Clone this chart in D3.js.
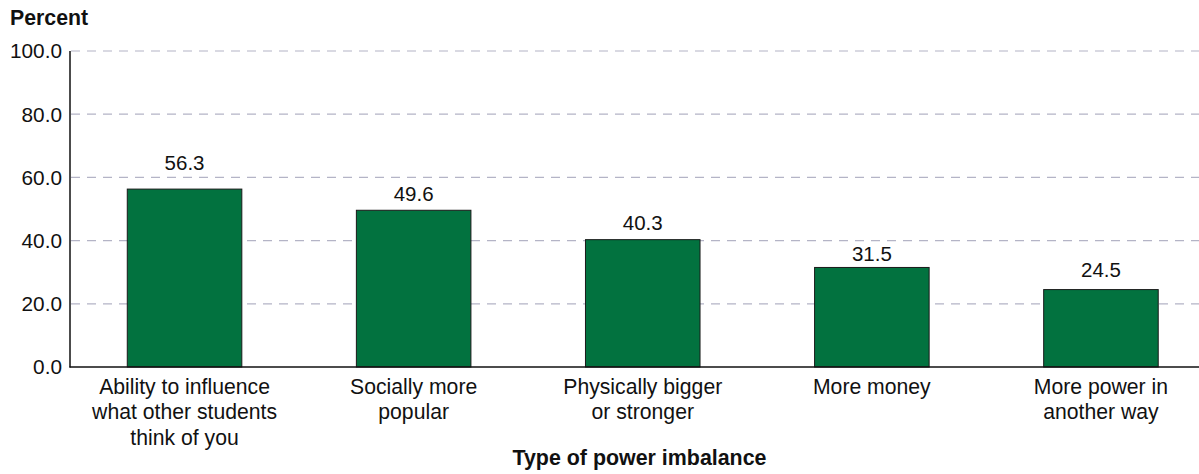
<!DOCTYPE html>
<html><head><meta charset="utf-8">
<script src="https://cdn.jsdelivr.net/npm/d3@7"></script>
<style>body{margin:0;background:#fff}svg{display:block;font-family:"Liberation Sans",Arial,sans-serif}</style>
</head><body><svg id="c" width="1199" height="474"></svg>
<script>
const categories = [
  ["Ability to influence","what other students","think of you"],
  ["Socially more","popular"],
  ["Physically bigger","or stronger"],
  ["More money"],
  ["More power in","another way"]
];
const values = [56.3, 49.6, 40.3, 31.5, 24.5];
const yTicks = [0, 20, 40, 60, 80, 100];
const yTitle = "Percent";
const xTitle = "Type of power imbalance";

// layout: gap (px) between each value label baseline and its bar top
const labelGap = [18.6, 9.3, 10, 6.6, 13];

const svg = d3.select("#c");
const x = d3.scaleBand().domain(d3.range(values.length)).range([70, 1215.5]).paddingInner(0.5).paddingOuter(0.25);
const y = d3.scaleLinear().domain([0, 100]).range([367, 51]);

// gridlines
svg.append("g").selectAll("line").data(yTicks.filter(d => d > 0)).join("line")
  .attr("x1", 71).attr("x2", 1199)
  .attr("y1", d => y(d)).attr("y2", d => y(d))
  .attr("stroke", "#b4b4c6").attr("stroke-width", 1.2).attr("stroke-dasharray", "9,7");

// y tick labels
svg.append("g").selectAll("text").data(yTicks).join("text")
  .attr("x", 62).attr("y", d => y(d)).attr("dy", "0.36em")
  .attr("text-anchor", "end").attr("font-size", 20.8).attr("fill", "#111")
  .text(d => d.toFixed(1));

// bars
svg.append("g").selectAll("rect").data(values).join("rect")
  .attr("x", (d, i) => x(i)).attr("width", x.bandwidth())
  .attr("y", d => y(d)).attr("height", d => y(0) - y(d))
  .attr("fill", "#02723f").attr("stroke", "#1a1a1a").attr("stroke-width", 1);

// value labels
svg.append("g").selectAll("text").data(values).join("text")
  .attr("x", (d, i) => x(i) + x.bandwidth() / 2).attr("y", (d, i) => y(d) - labelGap[i])
  .attr("text-anchor", "middle").attr("font-size", 20.5).attr("fill", "#111")
  .text(d => d.toFixed(1));

// axes lines
svg.append("line").attr("x1", 70).attr("x2", 70).attr("y1", 51).attr("y2", 367.5)
  .attr("stroke", "#111").attr("stroke-width", 1.5);
svg.append("line").attr("x1", 69.5).attr("x2", 1199).attr("y1", 367).attr("y2", 367)
  .attr("stroke", "#111").attr("stroke-width", 1.5);

// category labels
const cat = svg.append("g").selectAll("text").data(categories).join("text")
  .attr("text-anchor", "middle").attr("font-size", 21.2).attr("fill", "#111");
cat.each(function(lines, i) {
  d3.select(this).selectAll("tspan").data(lines).join("tspan")
    .attr("x", x(i) + x.bandwidth() / 2)
    .attr("y", (d, j) => 393.5 + j * 25.5)
    .text(d => d);
});

// titles
svg.append("text").attr("x", 10).attr("y", 25).attr("font-size", 21.3).attr("font-weight", "bold")
  .attr("fill", "#111").text(yTitle);
svg.append("text").attr("x", 639.5).attr("y", 464.5).attr("text-anchor", "middle")
  .attr("font-size", 21.4).attr("font-weight", "bold").attr("fill", "#111").text(xTitle);
</script></body></html>
